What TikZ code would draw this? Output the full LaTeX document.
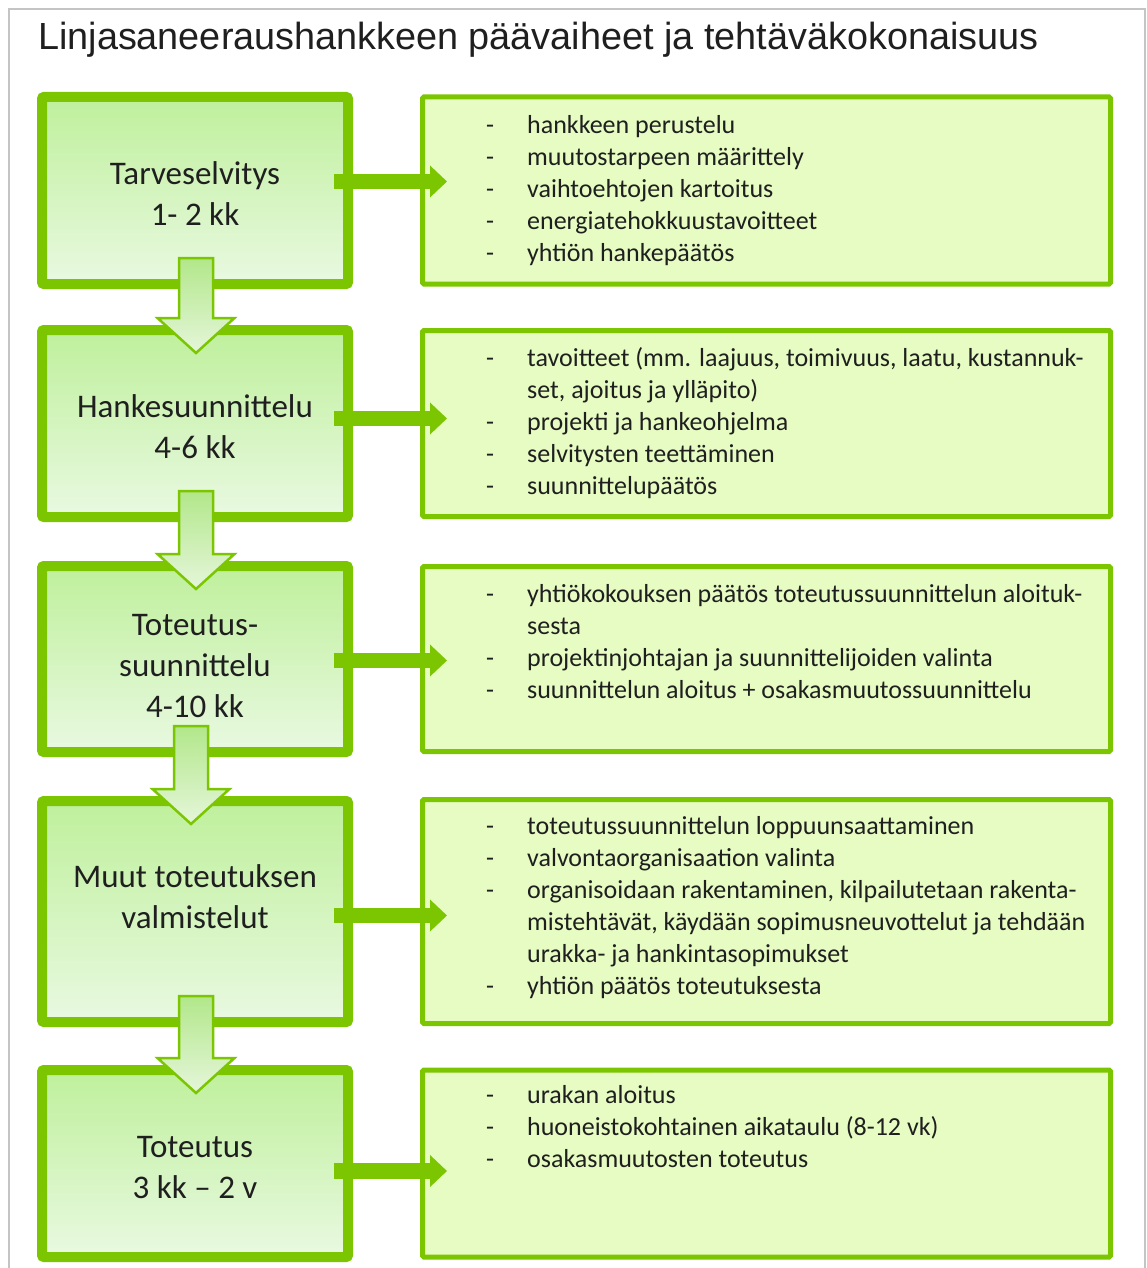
\documentclass[tikz,border=0pt]{standalone}
\usepackage{fontspec}
\setmainfont{Carlito}
\newfontfamily\titlefont{Liberation Sans}
\usepackage{tikz}
\usetikzlibrary{calc,positioning,arrows.meta}
\definecolor{grn}{HTML}{7BC600}
\definecolor{phasetop}{HTML}{BFF09C}
\definecolor{phasebot}{HTML}{E9F9E1}
\definecolor{taskfill}{HTML}{E6FCC2}
\definecolor{arrtop}{HTML}{B2E78A}
\definecolor{arrbot}{HTML}{E5F6DA}
\definecolor{ink}{HTML}{1F1F1F}
\definecolor{framegray}{HTML}{C4C4C4}
\tikzset{
  frame/.style={draw=framegray, line width=1.5pt},
  ttl/.style={inner sep=0pt, text=ink, font=\titlefont\fontsize{37.8}{45}\selectfont},
  ptext/.style={inner sep=0pt, align=center, text=ink, font=\fontsize{33}{41}\selectfont},
  phase/.style={draw=grn, line width=10pt, rounded corners=2pt,
    top color=phasetop, bottom color=phasebot, minimum width=306pt, inner sep=0pt},
  task/.style={draw=grn, line width=5pt, rounded corners=1.5pt, fill=taskfill,
    minimum width=688pt},
  ttext/.style={anchor=north west, inner sep=0pt, align=left, text=ink,
    font=\fontsize{26}{32}\selectfont},
  rarr/.style={draw=grn, line width=15.5pt, -{Triangle[length=17pt,width=31pt]}},
  darr/.style={draw=grn, line width=2.5pt, line join=miter, top color=arrtop, bottom color=arrbot},
}
\newcommand{\itm}{\makebox[41pt][l]{-}}
\newcommand{\cont}{\hspace*{41pt}}

\begin{document}
\begin{tikzpicture}[x=1pt,y=-1pt]
  \useasboundingbox (0,0) rectangle (1146,1268);
  \draw[frame] (9,1275) -- (9,9) -- (1145,9) -- (1145,1275);
  \node[ttl, anchor=base west] (title) at (38,50)
    {Linjasaneeraushankkeen päävaiheet ja tehtäväkokonaisuus};

  % phases
  \node[phase, minimum height=187pt] (L1) at (195,190.5) {};
  \node[phase, minimum height=187pt] (L2) at (195,423.5) {};
  \node[phase, minimum height=186pt] (L3) at (195,659) {};
  \node[phase, minimum height=221pt] (L4) at (195,911.5) {};
  \node[phase, minimum height=187pt] (L5) at (195,1163.5) {};
  \node[ptext] (L1t) at ($(L1.center)+(0,3)$) {Tarveselvitys\\1- 2 kk};
  \node[ptext] (L2t) at ($(L2.center)+(0,3)$) {Hankesuunnittelu\\4-6 kk};
  \node[ptext] (L3t) at ($(L3.center)+(0,7)$) {Toteutus-\\suunnittelu\\4-10 kk};
  \node[ptext] (L4t) at ($(L4.center)+(0,-15)$) {Muut toteutuksen\\valmistelut};
  \node[ptext] (L5t) at ($(L5.center)+(0,4)$) {Toteutus\\3 kk – 2 v};

  % tasks
  \node[task, minimum height=187pt, right=67pt of L1] (R1) {};
  \node[task, minimum height=186pt, right=67pt of L2] (R2) {};
  \node[task, minimum height=185pt, right=67pt of L3] (R3) {};
  \node[task, minimum height=224pt, right=67pt of L4] (R4) {};
  \node[task, minimum height=187pt, right=67pt of L5] (R5) {};

  \node[ttext] (T1) at ($(R1.north west)+(66,16)$) {\strut\itm hankkeen perustelu\\
    \itm muutostarpeen määrittely\\
    \itm vaihtoehtojen kartoitus\\
    \itm energiatehokkuustavoitteet\\
    \itm yhtiön hankepäätös};
  \node[ttext] (T2) at ($(R2.north west)+(66,16)$) {\strut\itm tavoitteet (mm. laajuus, toimivuus, laatu, kustannuk-\\
    \cont set, ajoitus ja ylläpito)\\
    \itm projekti ja hankeohjelma\\
    \itm selvitysten teettäminen\\
    \itm suunnittelupäätös};
  \node[ttext] (T3) at ($(R3.north west)+(66,16)$) {\strut\itm yhtiökokouksen päätös toteutussuunnittelun aloituk-\\
    \cont sesta\\
    \itm projektinjohtajan ja suunnittelijoiden valinta\\
    \itm suunnittelun aloitus + osakasmuutossuunnittelu};
  \node[ttext] (T4) at ($(R4.north west)+(66,15)$) {\strut\itm toteutussuunnittelun loppuunsaattaminen\\
    \itm valvontaorganisaation valinta\\
    \itm organisoidaan rakentaminen, kilpailutetaan rakenta-\\
    \cont mistehtävät, käydään sopimusneuvottelut ja tehdään\\
    \cont urakka- ja hankintasopimukset\\
    \itm yhtiön päätös toteutuksesta};
  \node[ttext] (T5) at ($(R5.north west)+(66,13)$) {\strut\itm urakan aloitus\\
    \itm huoneistokohtainen aikataulu (8-12 vk)\\
    \itm osakasmuutosten toteutus};

  % phase -> tasks
  \foreach \i/\y in {1/181.5,2/418.5,3/660.5,4/915.5,5/1171}{
    \path (L\i.east |- 0,\y) coordinate (s\i);
    \path (R\i.west |- 0,\y) coordinate (t\i);
    \draw[rarr] ($(s\i)+(-19,0)$) -- ($(t\i)+(27,0)$);
  }

  % phase -> next phase
  \foreach \a/\b/\dx in {1/2/1,2/3/1,3/4/-4,4/5/1}{
    \coordinate (top\a) at ($(L\a.south)+(\dx,-31)$);
    \coordinate (tip\a) at ($(L\b.north)+(\dx,28)$);
    \draw[darr] ($(top\a)+(-17,0)$) -- ($(top\a)+(17,0)$) -- ($(tip\a)+(17,-35)$)
      -- ($(tip\a)+(38.5,-35)$) -- (tip\a) -- ($(tip\a)+(-38.5,-35)$)
      -- ($(tip\a)+(-17,-35)$) -- cycle;
  }
\end{tikzpicture}
\end{document}
